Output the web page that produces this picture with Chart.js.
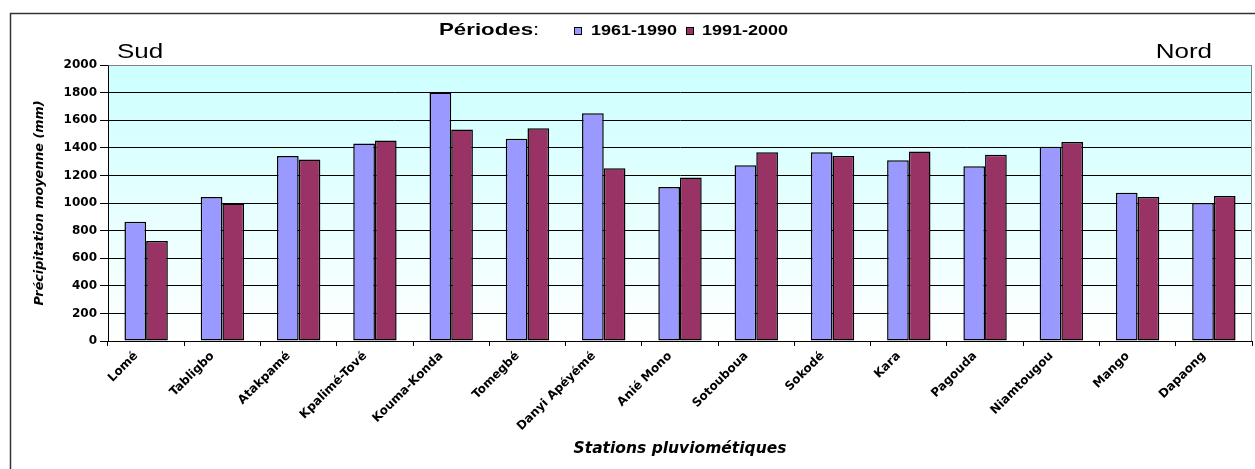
<!DOCTYPE html>
<html><head><meta charset="utf-8">
<script src="https://cdn.jsdelivr.net/npm/chart.js@4.4.1/dist/chart.umd.min.js"></script>
<style>html,body{margin:0;padding:0;background:#fff;overflow:hidden}#wrap{width:1255px;height:469px;position:relative}</style>
</head><body><div id="wrap"><canvas id="c" width="1255" height="469"></canvas></div>
<script>
const stations = ['Lomé','Tabligbo','Atakpamé','Kpalimé-Tové','Kouma-Konda','Tomegbé','Danyi Apéyémé','Anié Mono','Sotouboua','Sokodé','Kara','Pagouda','Niamtougou','Mango','Dapaong'];
const periode1961_1990 = [864,1043,1340,1432,1800,1466,1650,1116,1273,1367,1309,1266,1408,1075,1000];
const periode1991_2000 = [724,997,1316,1452,1532,1541,1251,1184,1367,1340,1374,1350,1442,1043,1051];
const seriesLabels = ['1961-1990','1991-2000'];
const seriesColors = ['#9999FF','#993366'];
const yMin = 0, yMax = 2000, yStep = 200;
const legendTitle = 'Périodes';
const sideLabels = ['Sud','Nord'];
const yTitle = 'Précipitation moyenne (mm)';
const xTitle = 'Stations pluviométiques';

function stretchedText(ctx, text, x, y, font, sx, align) {
  ctx.save();
  ctx.font = font;
  ctx.textBaseline = 'alphabetic';
  ctx.textAlign = 'left';
  const w = ctx.measureText(text).width * sx;
  const x0 = align === 'right' ? x - w : (align === 'center' ? x - w / 2 : x);
  ctx.translate(x0, y);
  ctx.scale(sx, 1);
  ctx.fillStyle = '#000';
  ctx.fillText(text, 0, 0);
  ctx.restore();
  return w;
}

const decor = {
  id: 'decor',
  beforeDraw(chart) {
    const {ctx, chartArea: a} = chart;
    ctx.save();
    ctx.fillStyle = '#fff';
    ctx.fillRect(0, 0, chart.width, chart.height);
    const g = ctx.createLinearGradient(0, a.top, 0, a.bottom);
    g.addColorStop(0, '#CCFFFF');
    g.addColorStop(1, '#FFFFFF');
    ctx.fillStyle = g;
    ctx.fillRect(a.left, a.top, a.right - a.left, a.bottom - a.top);
    ctx.restore();
  },
  afterDraw(chart) {
    const {ctx, chartArea: a} = chart;
    ctx.save();
    ctx.strokeStyle = '#333';
    ctx.lineWidth = 1.5;
    ctx.strokeRect(10.5, 13.5, chart.width + 20, chart.height + 20);
    ctx.strokeStyle = '#808080';
    ctx.lineWidth = 1;
    ctx.beginPath();
    ctx.moveTo(Math.round(a.left) + 0.5, Math.round(a.top) + 0.5);
    ctx.lineTo(Math.round(a.right) - 0.5, Math.round(a.top) + 0.5);
    ctx.lineTo(Math.round(a.right) - 0.5, Math.round(a.bottom));
    ctx.stroke();
    ctx.restore();

    stretchedText(ctx, sideLabels[0], 117, 58, '20px "Liberation Sans"', 1.3, 'left');
    stretchedText(ctx, sideLabels[1], 1212, 58, '20px "Liberation Sans"', 1.3, 'right');

    let x = 439;
    x += stretchedText(ctx, legendTitle, x, 35, 'bold 17px "Liberation Sans"', 1.31, 'left');
    stretchedText(ctx, ':', x, 35, '17px "Liberation Sans"', 1.31, 'left');
    const boxX = [574, 686];
    const textX = [591, 702];
    chart.data.datasets.forEach((ds, i) => {
      ctx.save();
      ctx.fillStyle = ds.backgroundColor;
      ctx.strokeStyle = '#000';
      ctx.lineWidth = 1;
      ctx.fillRect(boxX[i] + 0.5, 27.5, 7, 7);
      ctx.strokeRect(boxX[i] + 0.5, 27.5, 7, 7);
      ctx.restore();
      stretchedText(ctx, ds.label, textX[i], 35, 'bold 14px "Liberation Sans"', 1.285, 'left');
    });
  }
};

const barStyle = {borderColor: '#000', borderWidth: 1.5, borderSkipped: false, categoryPercentage: 0.569, barPercentage: 1.0};

new Chart(document.getElementById('c'), {
  type: 'bar',
  data: {
    labels: stations,
    datasets: [
      Object.assign({label: seriesLabels[0], data: periode1961_1990, backgroundColor: seriesColors[0]}, barStyle),
      Object.assign({label: seriesLabels[1], data: periode1991_2000, backgroundColor: seriesColors[1]}, barStyle)
    ]
  },
  options: {
    responsive: false,
    animation: false,
    devicePixelRatio: 1,
    layout: {padding: {left: 10, right: 3, top: 65, bottom: 0}},
    plugins: {legend: {display: false}, tooltip: {enabled: false}, title: {display: false}},
    scales: {
      x: {
        type: 'category',
        offset: true,
        grid: {offset: true, drawOnChartArea: false, drawTicks: true, tickLength: 5, color: '#000', tickColor: '#000'},
        border: {display: true, color: '#000', width: 1},
        ticks: {
          color: '#000', autoSkip: false, maxRotation: 45, minRotation: 45, padding: 3, labelOffset: -10,
          font: {family: '"DejaVu Sans"', size: 12, weight: 'bold'}
        },
        title: {
          display: true, text: xTitle, color: '#000',
          font: {family: '"DejaVu Sans"', size: 15.5, weight: 'bold', style: 'italic'},
          padding: {top: 0, bottom: 11}
        },
        afterFit(s) { s.height = 128; s.paddingLeft = 0; s.paddingRight = 0; }
      },
      y: {
        min: yMin, max: yMax,
        grid: {
          color: (c) => (c.tick && c.tick.value === yMax) ? '#808080' : '#000',
          tickColor: '#000', tickLength: 8, drawTicks: true, lineWidth: 1
        },
        border: {display: true, color: '#000', width: 1},
        ticks: {
          stepSize: yStep, color: '#000', padding: 3,
          font: {family: '"DejaVu Sans"', size: 12, weight: 'bold'},
          callback: (v) => String(v)
        },
        title: {
          display: true, text: yTitle, color: '#000',
          font: {family: '"DejaVu Sans"', size: 12.75, weight: 'bold', style: 'italic'},
          padding: {top: 22, bottom: 0}
        },
        afterFit(s) { s.width = 98; s.paddingTop = 0; s.paddingBottom = 0; }
      }
    }
  },
  plugins: [decor]
});
</script>
</body></html>
